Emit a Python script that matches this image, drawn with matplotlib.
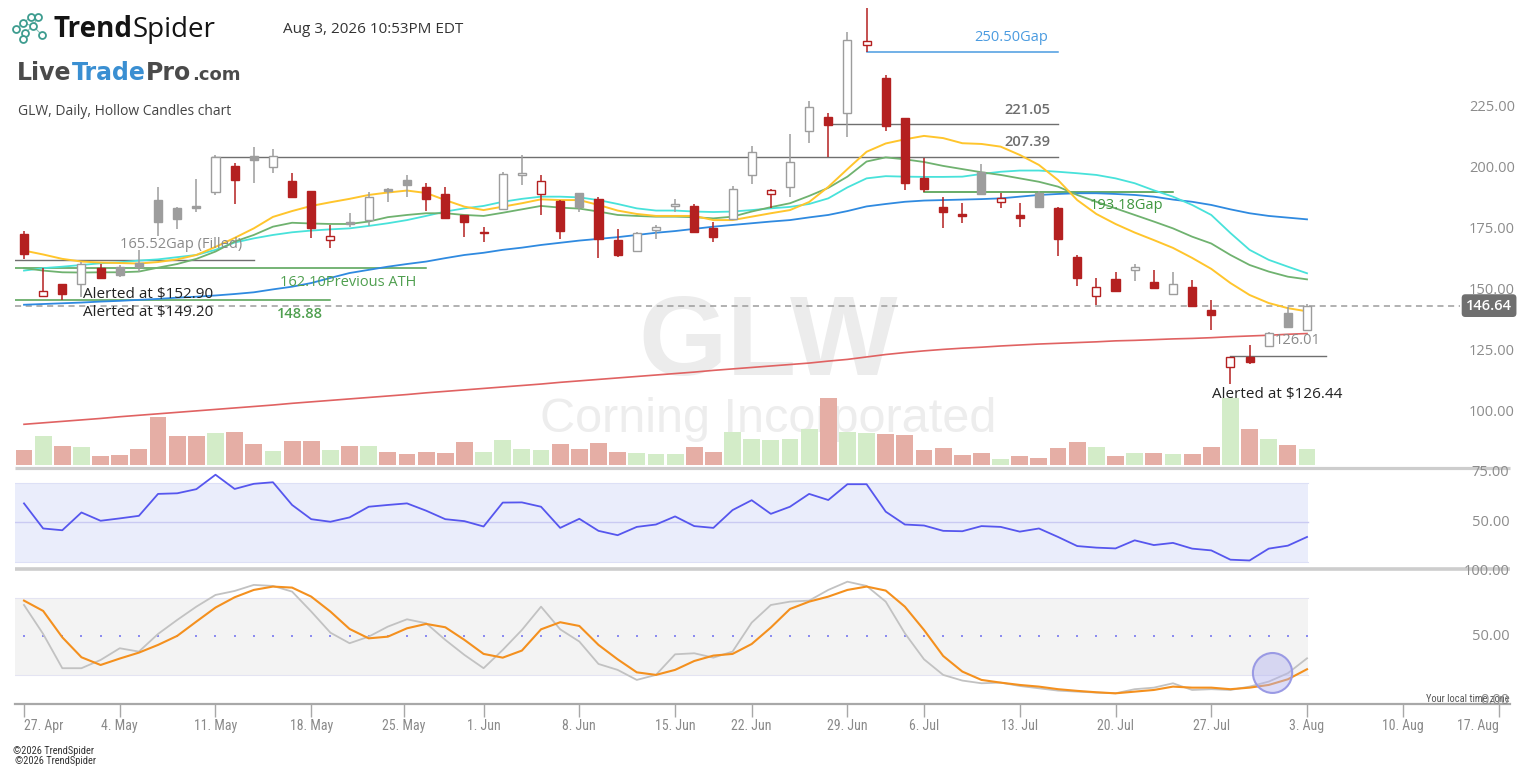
import numpy as np
import pandas as pd
import matplotlib
matplotlib.use('Agg')
import matplotlib.pyplot as plt
from matplotlib.patches import Rectangle, Ellipse
import matplotlib.transforms as mtransforms
from matplotlib import font_manager as fm

# ---------------------------------------------------------------- data
ticker = 'GLW'
company = 'Corning Incorporated'
chart_title = 'GLW, Daily, Hollow Candles chart'
timestamp = 'Aug 3, 2026 10:53PM EDT'
start_date = '2026-04-27'
end_date = '2026-08-03'
calendar_end = '2026-08-21'
holidays = ['2026-05-25', '2026-06-19', '2026-07-03']

opens = [176.0, 150.5, 155.3, 155.7, 161.9, 162.6, 164.2, 189.9, 186.7, 187.4,
         193.3, 203.8, 207.9, 203.5, 197.7, 193.6, 173.5, 180.7, 181.7, 194.2,
         198.1, 195.1, 192.2, 183.6, 176.4, 186.2, 200.3, 192.3, 189.6, 192.6,
         190.4, 173.5, 169.1, 177.6, 187.6, 187.4, 178.3, 182.1, 200.3, 192.3,
         195.1, 218.3, 223.8, 225.4, 253.4, 240.0, 223.4, 198.8, 186.9, 183.9,
         201.5, 189.0, 183.7, 192.6, 186.5, 166.4, 150.5, 157.5, 161.2, 156.4,
         151.6, 154.4, 144.8, 121.6, 125.4, 130.0, 143.7, 136.6]
highs = [177.3, 162.1, 155.5, 164.6, 163.7, 163.2, 169.4, 195.3, 186.9, 198.4,
         208.3, 204.9, 211.7, 210.7, 200.8, 193.8, 179.6, 184.4, 193.3, 194.7,
         200.1, 196.7, 195.4, 183.8, 178.7, 201.3, 208.3, 200.1, 189.8, 193.0,
         191.0, 178.0, 176.9, 179.6, 190.2, 188.2, 181.0, 195.6, 212.1, 194.5,
         216.9, 230.5, 225.7, 258.6, 268.5, 241.1, 223.6, 207.0, 191.0, 188.5,
         204.5, 192.6, 188.9, 193.6, 187.0, 167.3, 158.0, 160.5, 163.9, 161.2,
         160.5, 157.1, 148.9, 125.7, 130.7, 135.9, 146.2, 147.5]
lows = [165.6, 150.1, 148.9, 150.3, 157.8, 158.2, 160.5, 175.1, 177.9, 185.1,
        191.9, 188.2, 196.7, 200.8, 191.0, 174.2, 170.1, 178.7, 179.2, 189.2,
        191.2, 185.5, 182.2, 174.9, 172.8, 186.0, 196.0, 183.7, 173.9, 185.1,
        166.0, 166.4, 168.7, 173.8, 185.1, 176.5, 172.8, 181.7, 196.4, 186.5,
        191.2, 213.1, 207.6, 215.6, 250.4, 218.3, 194.0, 193.3, 178.3, 180.6,
        191.9, 186.5, 178.7, 186.5, 166.9, 154.6, 147.1, 152.7, 156.8, 153.5,
        151.6, 146.2, 136.6, 114.5, 122.7, 129.8, 137.7, 136.6]
closes = [167.6, 152.6, 151.6, 163.9, 158.0, 159.3, 162.3, 181.0, 182.0, 186.5,
          207.4, 198.1, 206.3, 207.9, 191.2, 178.3, 175.3, 180.5, 191.2, 193.9,
          196.0, 190.3, 182.4, 181.0, 176.7, 200.4, 200.6, 197.7, 177.3, 187.2,
          174.0, 167.3, 176.2, 178.9, 187.9, 176.9, 174.9, 194.5, 209.4, 194.0,
          205.3, 228.1, 220.6, 255.5, 255.2, 220.2, 196.7, 194.3, 185.1, 183.6,
          192.3, 190.6, 182.4, 187.2, 173.8, 157.8, 154.4, 152.7, 162.5, 153.7,
          155.7, 146.4, 142.8, 125.7, 123.6, 135.5, 137.7, 146.64]
prev_close0 = 172.0

volume_m = [4.5, 8.7, 5.7, 5.4, 2.7, 3.0, 4.8, 14.4, 8.7, 8.7,
            9.6, 9.9, 6.3, 4.2, 7.2, 7.2, 4.5, 5.7, 5.7, 3.9,
            3.3, 3.9, 3.6, 6.9, 3.9, 7.5, 4.8, 4.5, 6.3, 4.8,
            6.6, 3.9, 3.6, 3.3, 3.3, 5.4, 3.9, 9.9, 7.8, 7.5,
            7.8, 10.8, 20.1, 9.9, 9.6, 9.3, 9.0, 4.5, 5.1, 3.0,
            3.6, 1.8, 2.7, 2.1, 5.1, 6.9, 5.4, 2.7, 3.6, 3.6,
            3.3, 3.3, 5.4, 20.1, 10.8, 7.8, 6.0, 4.8]

ma_yellow = [169.2, 167.6, 165.8, 164.7, 164.3, 164.1, 163.9, 164.5, 165.6, 167.4,
             170.7, 174.4, 178.3, 183.0, 185.4, 187.5, 189.0, 190.4, 192.0, 193.0,
             193.8, 192.8, 189.9, 187.2, 185.8, 187.2, 188.6, 190.2, 189.9, 189.9,
             187.9, 185.6, 184.2, 183.4, 183.4, 183.4, 181.7, 181.7, 183.1, 184.5,
             185.8, 189.1, 195.3, 202.6, 209.7, 213.1, 214.8, 216.2, 215.3, 213.2,
             212.9, 211.8, 208.4, 204.3, 198.1, 189.9, 184.2, 180.1, 176.6, 173.5,
             170.3, 166.2, 161.7, 155.9, 151.0, 147.7, 145.6, 144.3]
ma_green = [162.0, 161.0, 160.3, 160.2, 160.3, 160.3, 160.6, 162.2, 163.7, 165.8,
            168.8, 172.9, 175.6, 179.0, 180.6, 180.3, 180.1, 180.1, 181.1, 182.9,
            183.8, 184.5, 184.5, 183.8, 183.4, 184.7, 186.1, 187.5, 186.8, 186.4,
            185.2, 183.8, 183.4, 183.1, 183.1, 182.9, 182.4, 183.1, 185.2, 187.0,
            188.6, 191.6, 194.9, 199.5, 205.7, 207.4, 206.6, 205.5, 203.9, 202.6,
            201.3, 200.2, 198.8, 197.4, 195.4, 192.0, 189.2, 186.5, 183.8, 181.1,
            178.3, 174.9, 172.1, 167.4, 163.3, 160.6, 158.5, 157.4]
ma_cyan = [161.0, 162.0, 162.6, 163.3, 164.0, 164.4, 165.1, 165.6, 166.5, 167.4,
           169.5, 172.5, 174.2, 175.6, 176.7, 177.4, 177.9, 178.3, 179.3, 180.4,
           181.7, 183.4, 185.2, 186.5, 187.5, 189.2, 190.4, 191.3, 191.3, 191.0,
           189.9, 188.3, 186.5, 185.6, 185.6, 185.2, 185.0, 185.2, 185.8, 186.5,
           187.1, 188.3, 190.6, 195.1, 198.8, 199.7, 199.5, 199.4, 199.4, 199.5,
           200.6, 201.5, 202.0, 202.0, 201.5, 200.9, 200.2, 198.8, 196.8, 193.9,
           191.3, 187.9, 183.8, 176.4, 169.5, 165.4, 162.6, 159.9]
ma_blue = [147.0, 147.3, 147.6, 147.9, 148.3, 148.6, 149.0, 149.4, 149.9, 150.3,
           150.8, 151.4, 152.1, 153.3, 154.4, 155.9, 158.0, 160.0, 161.3, 162.6,
           163.7, 164.7, 166.1, 167.4, 168.3, 169.5, 170.4, 171.5, 172.4, 173.3,
           174.0, 174.7, 175.6, 176.5, 177.2, 178.1, 179.0, 179.7, 180.4, 181.1,
           181.7, 182.8, 183.8, 185.4, 187.3, 188.3, 189.2, 189.7, 189.9, 190.1,
           190.3, 190.6, 191.3, 192.0, 192.4, 192.7, 192.7, 192.4, 192.0, 191.3,
           190.1, 189.2, 187.9, 186.1, 184.5, 183.4, 182.7, 182.0]
ma_red = [98.0, 98.6, 99.2, 99.8, 100.4, 101.1, 101.7, 102.3, 102.9, 103.5,
          104.1, 104.7, 105.3, 105.9, 106.6, 107.2, 107.8, 108.4, 109.0, 109.6,
          110.2, 110.9, 111.5, 112.1, 112.7, 113.3, 113.9, 114.5, 115.2, 115.8,
          116.4, 117.0, 117.6, 118.2, 118.8, 119.4, 120.1, 120.7, 121.3, 121.9,
          122.5, 123.1, 123.9, 124.6, 125.6, 126.6, 127.4, 128.1, 128.7, 129.2,
          129.6, 130.1, 130.5, 130.9, 131.2, 131.5, 131.8, 132.2, 132.4, 132.7,
          133.0, 133.2, 133.5, 133.9, 134.2, 134.5, 134.9, 135.2]

rsi = [59.5, 46.8, 45.9, 54.9, 50.7, 51.9, 53.2, 64.3, 64.6, 66.7,
       74.0, 66.8, 69.4, 70.2, 58.7, 51.5, 50.2, 52.4, 57.8, 58.7,
       59.5, 55.8, 51.5, 50.5, 47.8, 59.9, 60.0, 57.8, 47.1, 51.7,
       45.6, 43.4, 47.6, 48.8, 52.9, 48.0, 47.1, 56.1, 61.1, 54.2,
       57.8, 64.3, 61.2, 69.2, 69.2, 55.3, 48.8, 48.3, 45.6, 45.4,
       48.0, 47.6, 45.2, 46.8, 42.5, 37.9, 37.1, 36.7, 40.8, 38.4,
       39.5, 36.6, 35.7, 31.0, 30.6, 36.6, 38.1, 42.5]
stoch_k = [74.3, 51.8, 25.2, 25.2, 31.6, 40.7, 38.1, 51.8, 62.7, 73.0,
           82.1, 85.2, 89.9, 89.1, 84.7, 69.2, 52.8, 44.6, 49.7, 57.5,
           63.2, 60.1, 47.2, 35.5, 25.2, 39.4, 54.9, 73.0, 55.4, 45.9,
           28.5, 23.9, 16.1, 20.0, 36.0, 36.8, 33.4, 38.1, 60.6, 74.3,
           76.9, 77.7, 86.0, 92.4, 89.1, 76.9, 52.3, 32.1, 20.0, 15.6,
           13.5, 14.0, 11.4, 9.6, 7.8, 7.0, 6.3, 5.7, 8.9, 10.1,
           13.5, 8.3, 8.9, 8.3, 10.9, 14.8, 21.3, 32.9]
stoch_d = [77.7, 69.7, 49.2, 33.7, 27.7, 32.7, 37.3, 43.3, 50.3, 61.4,
           72.3, 80.3, 86.0, 88.6, 87.8, 80.8, 69.2, 55.7, 48.4, 49.7,
           56.2, 59.6, 57.0, 47.2, 36.3, 33.4, 38.9, 55.4, 60.9, 58.0,
           43.3, 32.1, 22.0, 20.0, 23.9, 30.8, 35.0, 36.3, 44.0, 56.8,
           71.2, 76.9, 80.8, 86.0, 88.6, 85.5, 73.0, 54.9, 34.7, 22.6,
           16.1, 14.0, 12.2, 10.9, 8.9, 7.6, 6.5, 5.7, 7.0, 8.3,
           10.9, 10.1, 10.1, 8.9, 10.1, 12.2, 16.6, 24.4]

price_ticks = [225, 200, 175, 150, 125, 100]
rsi_ticks = [75, 50]
stoch_ticks = [100, 50, 0]
rsi_band = [30, 70]
stoch_band = [20, 80]
last_price = 146.64

level_gap_filled = 165.52
level_prev_ath = 162.10
level_support = 148.88
level_res1 = 207.39
level_res2 = 221.05
level_gap_up = 250.50
level_gap_mid = 193.18
level_low = 126.01
alert_levels = [152.90, 149.20, 126.44]

# ---------------------------------------------------------------- fonts
plt.rcParams['font.family'] = ['Open Sans', 'DejaVu Sans']


def pick(*names):
    for nm in names:
        try:
            fm.findfont(fm.FontProperties(family=nm), fallback_to_default=False)
            return nm
        except Exception:
            pass
    return 'DejaVu Sans'


narrow = pick('Liberation Sans Narrow', 'Roboto Condensed', 'DejaVu Sans Condensed')
wm_font = pick('Liberation Sans', 'Open Sans')

# ---------------------------------------------------------------- calendar
hol = pd.to_datetime(holidays)
cal = pd.bdate_range(start_date, calendar_end)
cal = cal[~cal.isin(hol)]
dates = cal[cal <= pd.Timestamp(end_date)]
n = len(dates)
x = np.arange(n)
mondays = pd.date_range(start_date, '2026-08-17', freq='W-MON')
tick_pos, tick_lab = [], []
for m in mondays:
    if m in cal:
        tick_pos.append(cal.get_loc(m))
    else:
        tick_pos.append(cal.searchsorted(m) - 0.15)
    tick_lab.append(f"{m.day}. {m.strftime('%b')}")

# ---------------------------------------------------------------- figure
W, H = 1536, 769
fig = plt.figure(figsize=(W / 100, H / 100), dpi=100)
fig.patch.set_facecolor('white')


def rect(x0, y0, x1, y1):
    return [x0 / W, 1 - y1 / H, (x1 - x0) / W, (y1 - y0) / H]


XMIN, XMAX = -0.47, 77.6

ax_o = fig.add_axes([0, 0, 1, 1])
ax_o.set_xlim(0, W)
ax_o.set_ylim(H, 0)
ax_o.axis('off')
ax_v = fig.add_axes(rect(15, 0, 1510, 467))
ax = fig.add_axes(rect(15, 0, 1510, 467))
ax_r = fig.add_axes(rect(15, 469, 1510, 567))
ax_s = fig.add_axes(rect(15, 571, 1510, 704))
for a in (ax_v, ax, ax_r, ax_s):
    a.set_facecolor('none')
    a.set_xlim(XMIN, XMAX)
    for sp in a.spines.values():
        sp.set_visible(False)
    a.set_xticks([])
    a.set_yticks([])

ax.set_ylim(80.5, 271.9)
ax_v.set_ylim(-0.6, 139.5)
ax_r.set_ylim(27.3, 76.9)
ax_s.set_ylim(-2.6, 100.7)

# watermark
ax_o.text(768, 375, ticker, fontsize=82, fontweight='bold', color='#ececec',
          ha='center', va='baseline', family=[wm_font, 'DejaVu Sans'], zorder=0)
ax_o.text(768, 432, company, fontsize=35, color='#ededed',
          ha='center', va='baseline', family=[wm_font, 'DejaVu Sans'], zorder=0)

# separators
ax_o.plot([15, 1510], [467.8, 467.8], color='#cdcdcd', lw=2.3, solid_capstyle='butt')
ax_o.plot([15, 1510], [569.3, 569.3], color='#cdcdcd', lw=2.6, solid_capstyle='butt')

# ---------------------------------------------------------------- volume
o_arr = np.array(opens)
c_arr = np.array(closes)
vol_cols = np.where(c_arr >= o_arr, '#d3ecc8', '#e5aea5')
ax_v.bar(x, volume_m, width=0.88, color=vol_cols, linewidth=0)

# ---------------------------------------------------------------- levels
grey_line = '#6f6f6f'
green_line = '#4f9f4f'
ax.plot([XMIN, 12.0], [level_gap_filled] * 2, color=grey_line, lw=1.0, zorder=1.5)
ax.plot([XMIN, 21.0], [level_prev_ath] * 2, color=green_line, lw=1.1, zorder=1.5)
ax.plot([XMIN, 16.0], [level_support] * 2, color=green_line, lw=1.1, zorder=1.5)
ax.plot([9.8, 54.0], [level_res1] * 2, color=grey_line, lw=1.0, zorder=1.5)
ax.plot([42.0, 54.0], [level_res2] * 2, color=grey_line, lw=1.0, zorder=1.5)
ax.plot([44.0, 54.0], [level_gap_up] * 2, color='#4a9be0', lw=1.1, zorder=1.5)
ax.plot([47.0, 60.0], [level_gap_mid] * 2, color='#3f963f', lw=1.1, zorder=1.5)
ax.plot([63.0, 68.0], [level_low] * 2, color=grey_line, lw=1.0, zorder=1.5)
ax.plot([XMIN, 75.0], [last_price] * 2, color='#9c9c9c', lw=1.1, ls=(0, (4, 3)), zorder=1.5)

# ---------------------------------------------------------------- moving averages
ax.plot(x, ma_red, color='#e06262', lw=1.2, zorder=2)
ax.plot(x, ma_blue, color='#2f8ae0', lw=1.3, zorder=2)
ax.plot(x, ma_cyan, color='#48e2da', lw=1.3, zorder=2)
ax.plot(x, ma_green, color='#6fb26f', lw=1.3, zorder=2)
ax.plot(x, ma_yellow, color='#ffc52c', lw=1.4, zorder=2)

# ---------------------------------------------------------------- candles
red_c = '#b42020'
grey_c = '#9d9d9d'
bw = 0.42
for i in range(n):
    o, h, l, c = opens[i], highs[i], lows[i], closes[i]
    pc = closes[i - 1] if i > 0 else prev_close0
    col = grey_c if c >= pc else red_c
    hollow = c > o
    ax.vlines(i, l, h, color=col, lw=1.1, zorder=3)
    lo, hi = min(o, c), max(o, c)
    if hi - lo < 0.7:
        mid = (hi + lo) / 2
        lo, hi = mid - 0.35, mid + 0.35
    ax.add_patch(Rectangle((i - bw / 2, lo), bw, hi - lo,
                           facecolor='white' if hollow else col,
                           edgecolor=col, lw=1.0, zorder=4))

# ---------------------------------------------------------------- annotations
fs = 10.5
ax.text(5.0, 171.5, f"{level_gap_filled:.2f}Gap (Filled)", color='#8a8a8a', fontsize=fs,
        va='center', ha='left', zorder=5)
ax.text(13.37, 156.3, f"{level_prev_ath:.2f}Previous ATH", color='#4f9f4f', fontsize=fs,
        va='center', ha='left', zorder=5)
ax.text(13.2, 143.2, f"{level_support:.2f}", color='#4f9f4f', fontsize=fs,
        fontweight='semibold', va='center', ha='left', zorder=5)
ax.text(3.08, 151.0, f"Alerted at ${alert_levels[0]:.2f}", color='#222222', fontsize=11,
        va='center', ha='left', zorder=5)
ax.text(3.08, 144.0, f"Alerted at ${alert_levels[1]:.2f}", color='#222222', fontsize=11,
        va='center', ha='left', zorder=5)
ax.text(53.6, 213.7, f"{level_res1:.2f}", color='#6e6e6e', fontsize=fs,
        fontweight='semibold', va='center', ha='right', zorder=5)
ax.text(53.6, 226.8, f"{level_res2:.2f}", color='#6e6e6e', fontsize=fs,
        fontweight='semibold', va='center', ha='right', zorder=5)
ax.text(53.5, 256.7, f"{level_gap_up:.2f}Gap", color='#4a9be0', fontsize=fs,
        va='center', ha='right', zorder=5)
ax.text(55.67, 187.5, f"{level_gap_mid:.2f}Gap", color='#3f963f', fontsize=fs,
        va='center', ha='left', zorder=5)
ax.text(65.3, 132.2, f"{level_low:.2f}", color='#8a8a8a', fontsize=fs,
        va='center', ha='left', zorder=5)
ax.text(62.04, 110.4, f"Alerted at ${alert_levels[2]:.2f}", color='#222222', fontsize=11,
        va='center', ha='left', zorder=5)

# price labels
trans_p = mtransforms.blended_transform_factory(ax.transAxes, ax.transData)
off_p = mtransforms.offset_copy(trans_p, fig=fig, x=0, y=7.4, units='dots')
for v in price_ticks:
    ax.text(1.0033, v, f"{v:.2f}", transform=off_p, ha='right', va='center',
            color='#8c8c8c', fontsize=10.5, zorder=5)
ax.text(0.986, last_price, f"{last_price:.2f}", transform=trans_p, ha='center', va='center',
        color='white', fontsize=10.5, fontweight='semibold', zorder=10,
        bbox=dict(boxstyle='round,pad=0.3,rounding_size=0.25', fc='#6f6f6f', ec='none'))

# ---------------------------------------------------------------- RSI
last_x = n - 1 + 0.05
ax_r.fill_between([XMIN, last_x], rsi_band[0], rsi_band[1], color='#eaedfb', lw=0)
for v in rsi_band:
    ax_r.plot([XMIN, last_x], [v, v], color='#dde0f6', lw=0.8)
ax_r.plot([XMIN, last_x], [50, 50], color='#cacaf2', lw=1.0)
ax_r.plot(x, rsi, color='#5656ee', lw=1.3)
trans_r = mtransforms.blended_transform_factory(ax_r.transAxes, ax_r.transData)
for v in rsi_ticks:
    ax_r.text(0.9995, v, f"{v:.2f}", transform=trans_r, ha='right', va='center',
              color='#8c8c8c', fontsize=10.5)

# ---------------------------------------------------------------- Stochastic
ax_s.fill_between([XMIN, last_x], stoch_band[0], stoch_band[1], color='#f3f3f3', lw=0)
for v in stoch_band:
    ax_s.plot([XMIN, last_x], [v, v], color='#e4e4f2', lw=0.8)
ax_s.plot(x, np.full(n, 50.0), ls='none', marker='s', ms=2.0, color='#8c8cf0', mew=0)
ax_s.plot(x, stoch_k, color='#c2c2c2', lw=1.3)
ax_s.plot(x, stoch_d, color='#f4901e', lw=1.5)
ax_s.add_patch(Ellipse((65.2, 21.5), width=2.05, height=31, facecolor=(0.70, 0.70, 0.94, 0.45),
                       edgecolor='#9a9ae4', lw=1.5, zorder=6))
trans_s = mtransforms.blended_transform_factory(ax_s.transAxes, ax_s.transData)
for v in stoch_ticks:
    ax_s.text(0.9995, v, f"{v:.2f}", transform=trans_s, ha='right', va='center',
              color='#8c8c8c', fontsize=10.5)

# x axis
ax_s.spines['bottom'].set_visible(True)
ax_s.spines['bottom'].set_color('#a8a8a8')
ax_s.spines['bottom'].set_linewidth(1.6)
ax_s.set_xticks(tick_pos)
ax_s.set_xticklabels(tick_lab, fontsize=10, color='#8a8a8a', family=[narrow, 'DejaVu Sans'])
ax_s.tick_params(axis='x', length=9, width=1.0, color='#a8a8a8', pad=2)
labs = ax_s.get_xticklabels()
labs[0].set_ha('left')
labs[-1].set_ha('right')

# ---------------------------------------------------------------- header
renderer = fig.canvas.get_renderer()


def chain(pieces, x0, y0):
    xx = x0
    for txt, kw in pieces:
        t = ax_o.text(xx, y0, txt, va='baseline', ha='left', **kw)
        bb = t.get_window_extent(renderer)
        xx = bb.x1 + 0.5


chain([('Trend', dict(fontsize=20, fontweight='bold', color='#141414')),
       ('Spider', dict(fontsize=20, color='#141414'))], 53, 37)
chain([('Live', dict(fontsize=17, fontweight='heavy', color='#4a4a4a', family=['DejaVu Sans'])),
       ('Trade', dict(fontsize=17, fontweight='heavy', color='#3a8fd2', family=['DejaVu Sans'])),
       ('Pro', dict(fontsize=17, fontweight='heavy', color='#4a4a4a', family=['DejaVu Sans'])),
       ('.com', dict(fontsize=13, fontweight='heavy', color='#4a4a4a', family=['DejaVu Sans']))],
      17, 80)
ax_o.text(283, 33, timestamp, fontsize=11, color='#333333', va='baseline')
ax_o.text(18, 115, chart_title, fontsize=10, color='#444444', va='baseline')

# logo icon
teal = '#3d9c8f'
icon_pts = [(16, 29), (23, 23), (31, 17), (38, 17), (25, 33), (23, 39), (33, 26), (42, 35)]
icon_links = [(0, 1), (1, 2), (1, 6), (6, 3), (4, 6), (4, 5), (6, 7)]
for a_, b_ in icon_links:
    ax_o.plot([icon_pts[a_][0], icon_pts[b_][0]], [icon_pts[a_][1], icon_pts[b_][1]],
              color=teal, lw=0.8, alpha=0.6)
ax_o.plot([p[0] for p in icon_pts], [p[1] for p in icon_pts], ls='none', marker='o', ms=5,
          mfc='white', mec=teal, mew=1.3)

# footer
ax_o.text(1510, 702, 'Your local time zone', fontsize=7.5, color='#555555', ha='right',
          va='baseline', family=[narrow, 'DejaVu Sans'])
ax_o.text(13, 754, '©2026 TrendSpider', fontsize=7.5, color='#333333', va='baseline',
          family=[narrow, 'DejaVu Sans'])
ax_o.text(15, 764, '©2026 TrendSpider', fontsize=7.5, color='#333333', va='baseline',
          family=[narrow, 'DejaVu Sans'])

fig.savefig('out.png', dpi=100, facecolor='white')
